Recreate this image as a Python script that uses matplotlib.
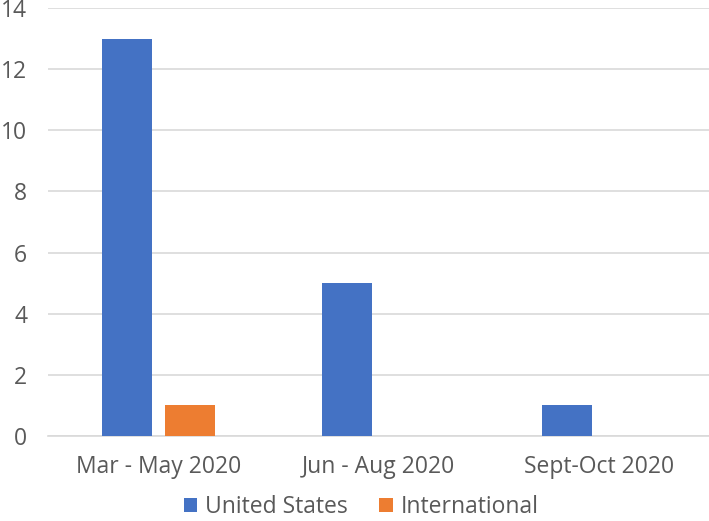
import numpy as np
import matplotlib.pyplot as plt

plt.rcParams['font.family'] = ['Open Sans', 'DejaVu Sans']

categories = ['Mar - May 2020', 'Jun - Aug 2020', 'Sept-Oct 2020']
united_states = [13, 5, 1]
international = [1, 0, 0]

blue = '#4472C4'
orange = '#ED7D31'
grey_text = '#595959'

fig = plt.figure(figsize=(7.09, 5.21), dpi=100)
ax = fig.add_axes([48 / 709, 85 / 521, 661 / 709, 428 / 521])

x = np.arange(len(categories))
w = 0.227
off = 0.143
ax.bar(x - off, united_states, w, color=blue, label='United States', zorder=3)
# zero-height bars are left out like the original
intl_x = [xi + off for xi, v in zip(x, international) if v > 0]
intl_v = [v for v in international if v > 0]
ax.bar(intl_x, intl_v, w, color=orange, label='International', zorder=3)

ax.set_xlim(-0.5, 2.5)
ax.set_ylim(0, 14)
ax.set_yticks(range(0, 15, 2))
ax.set_xticks(x)
ax.set_xticklabels(categories)
ax.yaxis.grid(True, color='#D9D9D9', linewidth=1.2, zorder=0)
ax.tick_params(axis='both', length=0, labelsize=16.5, colors=grey_text)
ax.tick_params(axis='x', pad=14)
ax.tick_params(axis='y', pad=15)
for s in ['top', 'right', 'left']:
    ax.spines[s].set_visible(False)
ax.spines['bottom'].set_color('#D9D9D9')
ax.spines['bottom'].set_linewidth(1.2)

leg = ax.legend(loc='center', bbox_to_anchor=(0.474, -0.166), ncol=2, frameon=False,
                fontsize=16.5, handlelength=0.6, handleheight=0.6, handletextpad=0.35,
                columnspacing=1.35, borderpad=0)
for t in leg.get_texts():
    t.set_color(grey_text)

fig.savefig('out.png', dpi=100)
